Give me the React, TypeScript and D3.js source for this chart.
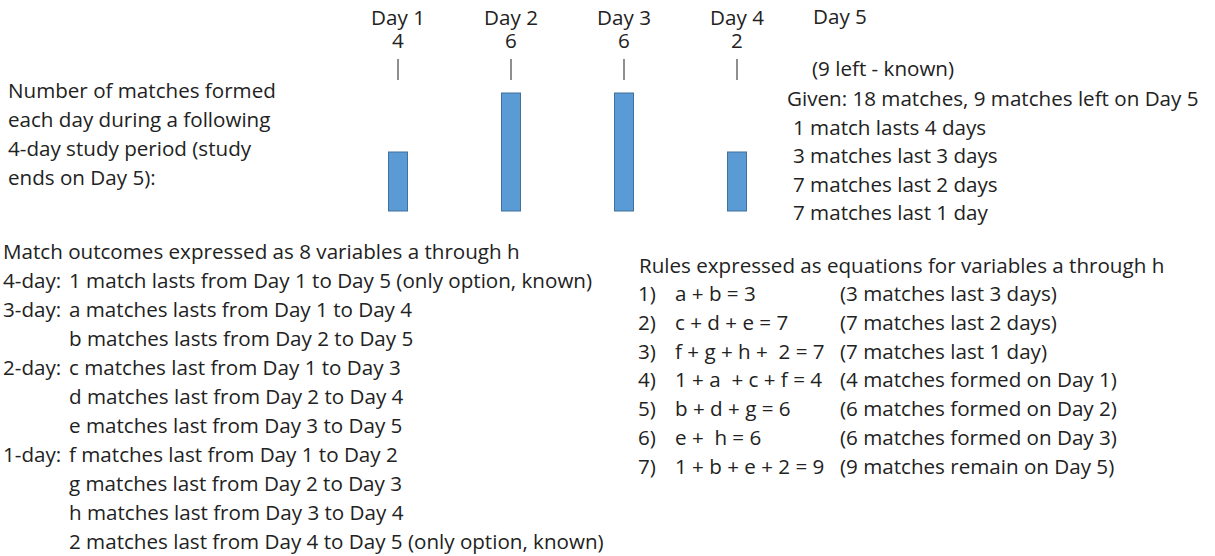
import * as d3 from 'd3';

const days = ['Day 1', 'Day 2', 'Day 3', 'Day 4'];
const dayCounts = [4, 6, 6, 2];
// bar heights as drawn (relative units)
const barLevels = [1, 2, 2, 1];

const lastDay = 'Day 5';
const lastDayNote = '(9 left - known)';

const introLines = [
  'Number of matches formed',
  'each day during a following',
  '4-day study period (study',
  'ends on Day 5):',
];

const givenHeader = 'Given: 18 matches, 9 matches left on Day 5';
const givenLines = [
  '1 match lasts 4 days',
  '3 matches last 3 days',
  '7 matches last 2 days',
  '7 matches last 1 day',
];

const outcomeTitle = 'Match outcomes expressed as 8 variables a through h';
const outcomeLabels = ['4-day:', '3-day:', '', '2-day:', '', '', '1-day:', '', '', ''];
const outcomeTexts = [
  '1 match lasts from Day 1 to Day 5 (only option, known)',
  'a matches lasts from Day 1 to Day 4',
  'b matches lasts from Day 2 to Day 5',
  'c matches last from Day 1 to Day 3',
  'd matches last from Day 2 to Day 4',
  'e matches last from Day 3 to Day 5',
  'f matches last from Day 1 to Day 2',
  'g matches last from Day 2 to Day 3',
  'h matches last from Day 3 to Day 4',
  '2 matches last from Day 4 to Day 5 (only option, known)',
];

const rulesTitle = 'Rules expressed as equations for variables a through h';
const ruleNums = ['1)', '2)', '3)', '4)', '5)', '6)', '7)'];
const ruleEquations = [
  'a + b = 3',
  'c + d + e = 7',
  'f + g + h +  2 = 7',
  '1 + a  + c + f = 4',
  'b + d + g = 6',
  'e +  h = 6',
  '1 + b + e + 2 = 9',
];
const ruleNotes = [
  '(3 matches last 3 days)',
  '(7 matches last 2 days)',
  '(7 matches last 1 day)',
  '(4 matches formed on Day 1)',
  '(6 matches formed on Day 2)',
  '(6 matches formed on Day 3)',
  '(9 matches remain on Day 5)',
];

const W = 1215;
const H = 556;
const FONT = '"Open Sans", sans-serif';
const FS = 20.6;
const INK = '#222';

export default function App() {
  const x = d3.scalePoint<string>().domain(days).range([398, 737]);
  const y = d3.scaleLinear().domain([0, 2]).range([211, 93]);
  const barW = 19;

  // line positions for the text blocks
  const introY = d3.scaleLinear().domain([0, 1]).range([98, 127]);
  const givenY = d3.scaleLinear().domain([0, 1]).range([134.5, 163]);
  const outcomeY = d3.scaleLinear().domain([0, 1]).range([288, 317]);
  const ruleY = d3.scaleLinear().domain([0, 1]).range([301, 329.8]);

  return (
    <svg
      width={W}
      height={H}
      viewBox={`0 0 ${W} ${H}`}
      style={{ position: 'absolute', left: 0, top: 0, background: '#fff' }}
      fontFamily={FONT}
      fontSize={FS}
      fill={INK}
    >
      {/* day columns */}
      {days.map((d, i) => (
        <g key={d}>
          <text x={x(d)} y={25} textAnchor="middle">{d}</text>
          <text x={x(d)} y={48} textAnchor="middle">{dayCounts[i]}</text>
          <line x1={x(d)} x2={x(d)} y1={59} y2={80} stroke="#444" strokeWidth={1.2} />
          <rect
            x={(x(d) ?? 0) - barW / 2}
            y={y(barLevels[i])}
            width={barW}
            height={y(0) - y(barLevels[i])}
            fill="#5b9bd5"
            stroke="#41719c"
            strokeWidth={1}
          />
        </g>
      ))}
      <text x={813} y={24}>{lastDay}</text>
      <text x={812} y={76}>{lastDayNote}</text>

      {/* intro */}
      {introLines.map((t, i) => (
        <text key={t} x={8} y={introY(i)}>{t}</text>
      ))}

      {/* given */}
      <text x={787} y={106}>{givenHeader}</text>
      {givenLines.map((t, i) => (
        <text key={t} x={793} y={givenY(i)}>{t}</text>
      ))}

      {/* outcomes */}
      <text x={3} y={259}>{outcomeTitle}</text>
      {outcomeTexts.map((t, i) => (
        <g key={t}>
          {outcomeLabels[i] && <text x={3} y={outcomeY(i)}>{outcomeLabels[i]}</text>}
          <text x={69} y={outcomeY(i)}>{t}</text>
        </g>
      ))}

      {/* rules */}
      <text x={639} y={273}>{rulesTitle}</text>
      {ruleEquations.map((eq, i) => (
        <g key={eq}>
          <text x={638} y={ruleY(i)}>{ruleNums[i]}</text>
          <text x={675} y={ruleY(i)} style={{ whiteSpace: 'pre' }}>{eq}</text>
          <text x={840} y={ruleY(i)}>{ruleNotes[i]}</text>
        </g>
      ))}
    </svg>
  );
}
